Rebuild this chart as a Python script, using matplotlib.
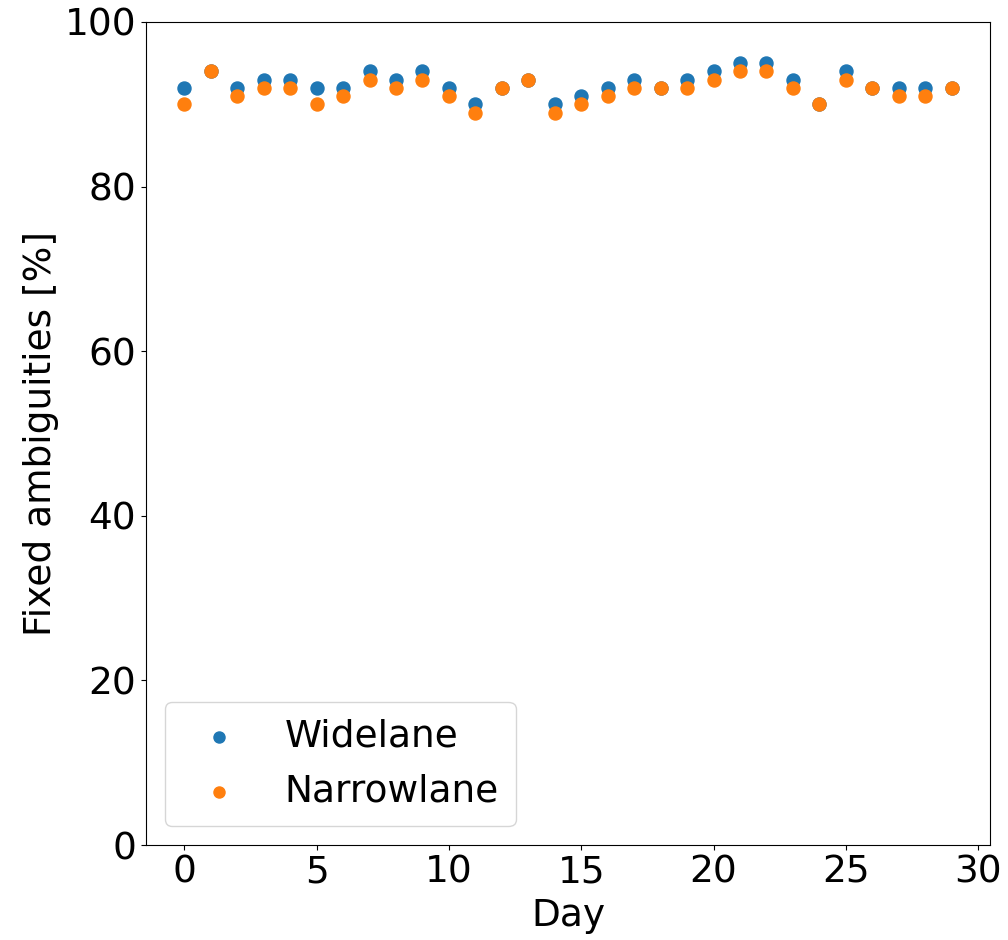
import matplotlib
matplotlib.use("Agg")
import matplotlib.pyplot as plt
import numpy as np

days = list(range(30))
widelane = [92, 94, 92, 93, 93, 92, 92, 94, 93, 94, 92, 90, 92, 93, 90,
            91, 92, 93, 92, 93, 94, 95, 95, 93, 90, 94, 92, 92, 92, 92]
narrowlane = [90, 94, 91, 92, 92, 90, 91, 93, 92, 93, 91, 89, 92, 93, 89,
              90, 91, 92, 92, 92, 93, 94, 94, 92, 90, 93, 92, 91, 91, 92]

fig = plt.figure(figsize=(10.08, 9.4), dpi=100)
ax = fig.add_axes([146/1008, 1-845/940, (990-146)/1008, (845-22)/940])
ax.scatter(days, widelane, s=88, color="#1f77b4", label="Widelane")
ax.scatter(days, narrowlane, s=88, color="#ff7f0e", label="Narrowlane")
ax.set_ylim(0, 100)
ax.set_xlabel("Day", fontsize=27, labelpad=5)
ax.set_ylabel("Fixed ambiguities [%]", fontsize=27)
ax.tick_params(labelsize=27)
ax.legend(loc="lower left", fontsize=27, markerscale=0.85, handletextpad=0.75,
          borderpad=0.45)
fig.savefig("out.png", dpi=100)
